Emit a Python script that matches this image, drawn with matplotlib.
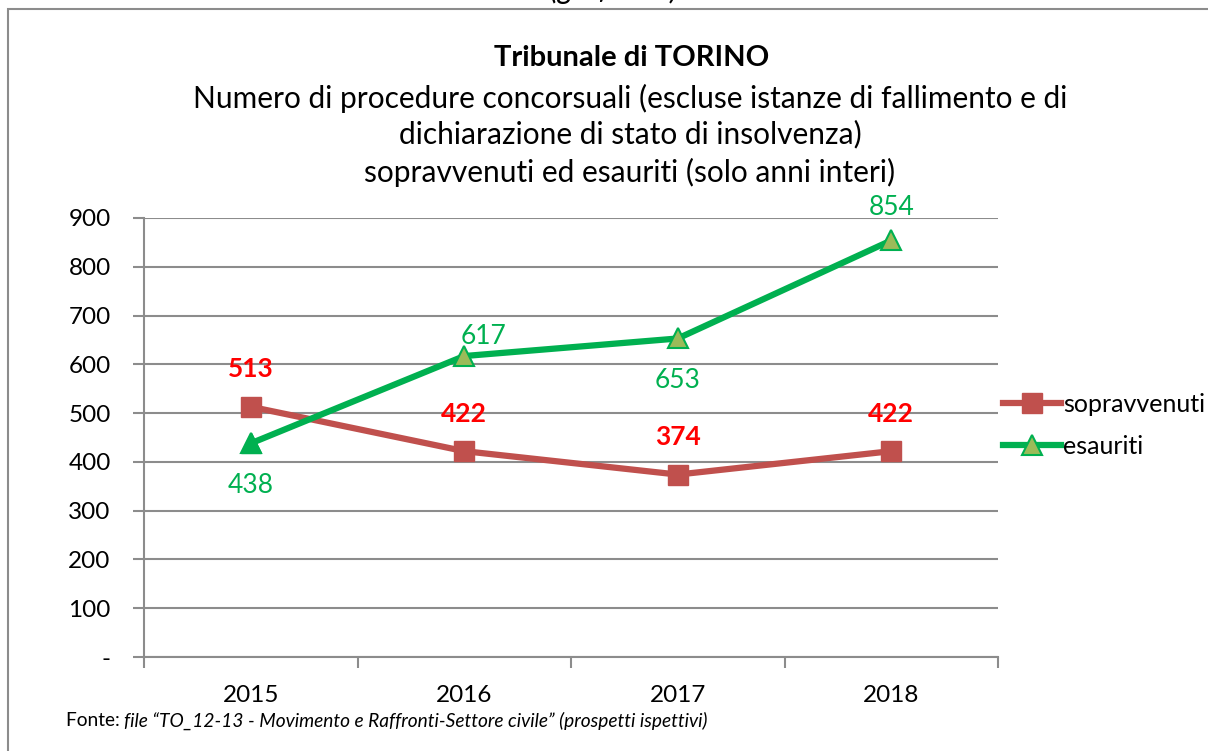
import matplotlib
matplotlib.use("Agg")
import matplotlib.pyplot as plt
from matplotlib.patches import Rectangle

years = ["2015", "2016", "2017", "2018"]
sopravvenuti = [513, 422, 374, 422]
esauriti = [438, 617, 653, 854]
yticks = [0, 100, 200, 300, 400, 500, 600, 700, 800, 900]
ytick_labels = ["-", "100", "200", "300", "400", "500", "600", "700", "800", "900"]

FONT = "Lato"
plt.rcParams['font.family'] = [FONT, 'DejaVu Sans']

W, H = 1208, 751
fig = plt.figure(figsize=(W / 100, H / 100), dpi=100)
fig.patch.set_facecolor("white")

# outer frame
fig.add_artist(Rectangle((8 / W, -0.05), 1.2, 1 - 9 / H + 0.05, transform=fig.transFigure,
                         fill=False, edgecolor="#8c8c8c", linewidth=1.5))

# cut-off caption at the top
fig.text(614 / W, 1 + 1 / H, "(grafico 7)", ha="center", va="baseline", fontsize=22,
         style="italic", color="black")

# titles
fig.text(632 / W, 1 - 58 / H, "Tribunale di TORINO", ha="center", va="center",
         fontsize=21, fontweight="bold")
fig.text(630 / W, 1 - 98 / H, "Numero di procedure concorsuali (escluse istanze di fallimento e di",
         ha="center", va="center", fontsize=21.5)
fig.text(630 / W, 1 - 134 / H, "dichiarazione di stato di insolvenza)",
         ha="center", va="center", fontsize=21.5)
fig.text(630 / W, 1 - 172 / H, "sopravvenuti ed esauriti (solo anni interi)",
         ha="center", va="center", fontsize=21.5)

ax = fig.add_axes([144 / W, 1 - 657 / H, (998 - 144) / W, (657 - 218) / H])
x = list(range(len(years)))

ax.set_xlim(-0.5, len(years) - 0.5)
ax.set_ylim(0, 900)
ax.set_yticks(yticks)
ax.set_yticklabels(ytick_labels)
ax.yaxis.grid(True, color="#8c8c8c", linewidth=1.5)
ax.set_axisbelow(True)
for s in ["top", "right"]:
    ax.spines[s].set_visible(False)
for s in ["left", "bottom"]:
    ax.spines[s].set_color("#8c8c8c")
    ax.spines[s].set_linewidth(1.5)

ax.set_xticks(x)
ax.set_xticklabels(years)
ax.tick_params(axis="x", which="major", length=0, pad=20, labelsize=17.5)
ax.set_xticks([i - 0.5 for i in range(len(years) + 1)], minor=True)
ax.tick_params(axis="x", which="minor", length=8, width=1.5, color="#8c8c8c", direction="out")
ax.tick_params(axis="y", length=8, width=1.5, color="#8c8c8c", pad=16, labelsize=17.5)

red_line = "#C0504D"
green_line = "#00B050"
olive = "#9BBB59"

l1, = ax.plot(x, sopravvenuti, color=red_line, linewidth=4.5, marker="s", markersize=14,
              markerfacecolor=red_line, markeredgecolor=red_line, label="sopravvenuti", zorder=3)
l2, = ax.plot(x, esauriti, color=green_line, linewidth=4.5, marker="^", markersize=15,
              markerfacecolor=olive, markeredgecolor=green_line, markeredgewidth=1.5,
              label="esauriti", zorder=4)
ax.plot(x[:1], esauriti[:1], linestyle="none", marker="^", markersize=15,
        markerfacecolor=green_line, markeredgecolor=green_line, zorder=5)

# data labels
for xi, v in zip(x, sopravvenuti):
    ax.annotate(str(v), (xi, v), xytext=(0, 27), textcoords="offset points", ha="center",
                va="center", color="#FF0000", fontsize=19, fontweight="bold")

esa_offsets = [(0, -30), (14, 14), (0, -30), (0, 24)]
for xi, v, off in zip(x, esauriti, esa_offsets):
    ax.annotate(str(v), (xi, v), xytext=off, textcoords="offset points", ha="center",
                va="center", color=green_line, fontsize=19)

leg = fig.legend(handles=[l1, l2], loc="center left", bbox_to_anchor=(1003 / W, 1 - 425.5 / H),
                 frameon=False, fontsize=18, handlelength=2.3, handletextpad=0.1,
                 labelspacing=0.78, borderaxespad=0, borderpad=0)

fig.text(66 / W, 1 - 721 / H, "Fonte: ", ha="left", va="center", fontsize=13.8)
fig.text(124 / W, 1 - 721 / H,
         "file \u201cTO_12-13 - Movimento e Raffronti-Settore civile\u201d (prospetti ispettivi)",
         ha="left", va="center", fontsize=13.8, style="italic")

fig.savefig("out.png", dpi=100)
